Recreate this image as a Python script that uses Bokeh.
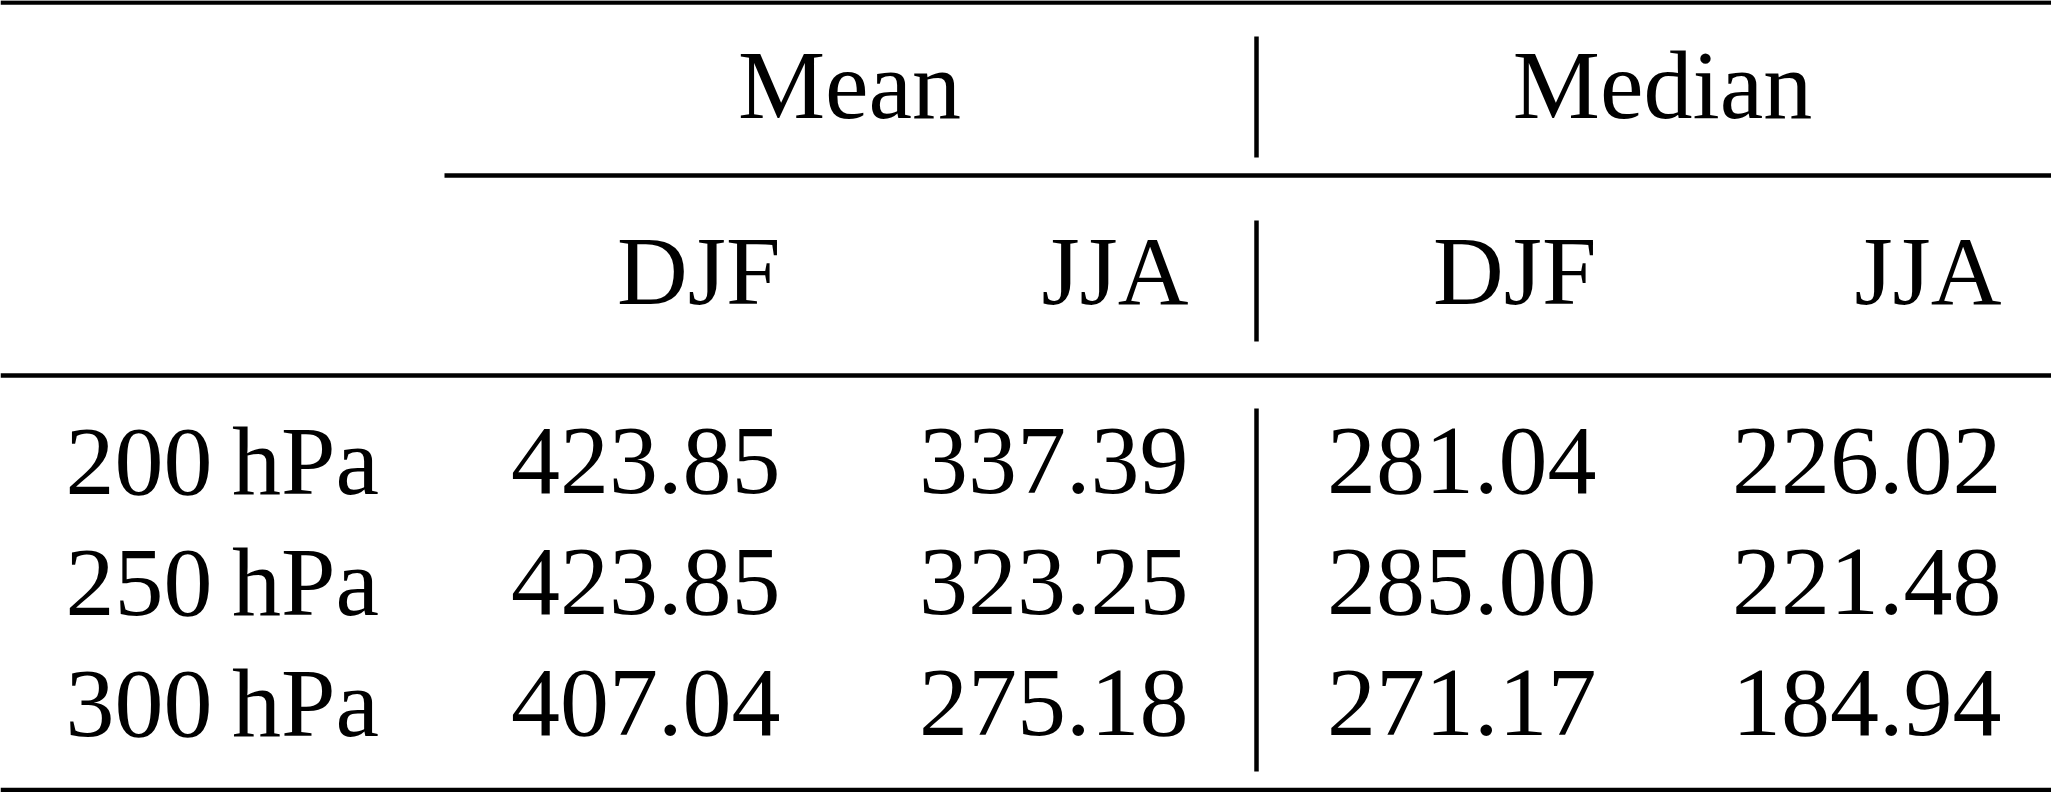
from bokeh.plotting import figure
from bokeh.models import ColumnDataSource, Range1d
from bokeh.core.properties import value
from bokeh.embed import file_html
from bokeh.resources import INLINE

# table contents
levels = ["200\u2009hPa", "250\u2009hPa", "300\u2009hPa"]
stats = ["Mean", "Median"]
seasons = ["DJF", "JJA"]
mean_djf = [423.85, 423.85, 407.04]
mean_jja = [337.39, 323.25, 275.18]
median_djf = [281.04, 285.00, 271.17]
median_jja = [226.02, 221.48, 184.94]

# layout in pixels (y grows downwards)
W, H = 2051, 792
FONT = value("Liberation Serif")
SIZE = "98px"
TEXT_SHIFT = -34  # svg text lands lower than the requested baseline
label_x = 65
col_right = [780, 1188, 1596, 2001]
group_center = [849, 1662]
head1_y = 118 + TEXT_SHIFT
head2_y = 304 + TEXT_SHIFT
row_y = [494 + TEXT_SHIFT, 615 + TEXT_SHIFT, 736 + TEXT_SHIFT]
vline_x = 1256
RULE = 4.5

p = figure(
    width=W, height=H,
    x_range=Range1d(0, W), y_range=Range1d(H, 0),
    output_backend="svg", toolbar_location=None,
    x_axis_location=None, y_axis_location=None,
    min_border=0, tools="",
)
p.grid.visible = False
p.outline_line_color = None
p.background_fill_color = "white"
p.border_fill_color = "white"

# rules: top, cmidrule, midrule, bottom
p.segment(x0=[0, 444, 0, 0], y0=[2, 175, 375, 789.5],
          x1=[W, W, W, W], y1=[2, 175, 375, 789.5],
          line_color="black", line_width=RULE)
# vertical separator between Mean and Median
p.segment(x0=[vline_x] * 3, y0=[36, 220, 408],
          x1=[vline_x] * 3, y1=[157, 341, 771],
          line_color="black", line_width=RULE)

# group headers
p.text(x=group_center, y=[head1_y] * 2, text=stats,
       text_font=FONT, text_font_size=SIZE, text_color="black",
       text_align="center", text_baseline="alphabetic")

# season headers
p.text(x=col_right, y=[head2_y] * 4, text=seasons * 2,
       text_font=FONT, text_font_size=SIZE, text_color="black",
       text_align="right", text_baseline="alphabetic")

# row labels
p.text(x=[label_x] * 3, y=row_y, text=levels,
       text_font=FONT, text_font_size=SIZE, text_color="black",
       text_align="left", text_baseline="alphabetic")

# values
xs, ys, txt = [], [], []
for cx, col in zip(col_right, [mean_djf, mean_jja, median_djf, median_jja]):
    for ry, v in zip(row_y, col):
        xs.append(cx)
        ys.append(ry)
        txt.append(f"{v:.2f}")
src = ColumnDataSource(dict(x=xs, y=ys, text=txt))
p.text(x="x", y="y", text="text", source=src,
       text_font=FONT, text_font_size=SIZE, text_color="black",
       text_align="right", text_baseline="alphabetic")

open("out.html", "w").write(file_html(p, INLINE))
